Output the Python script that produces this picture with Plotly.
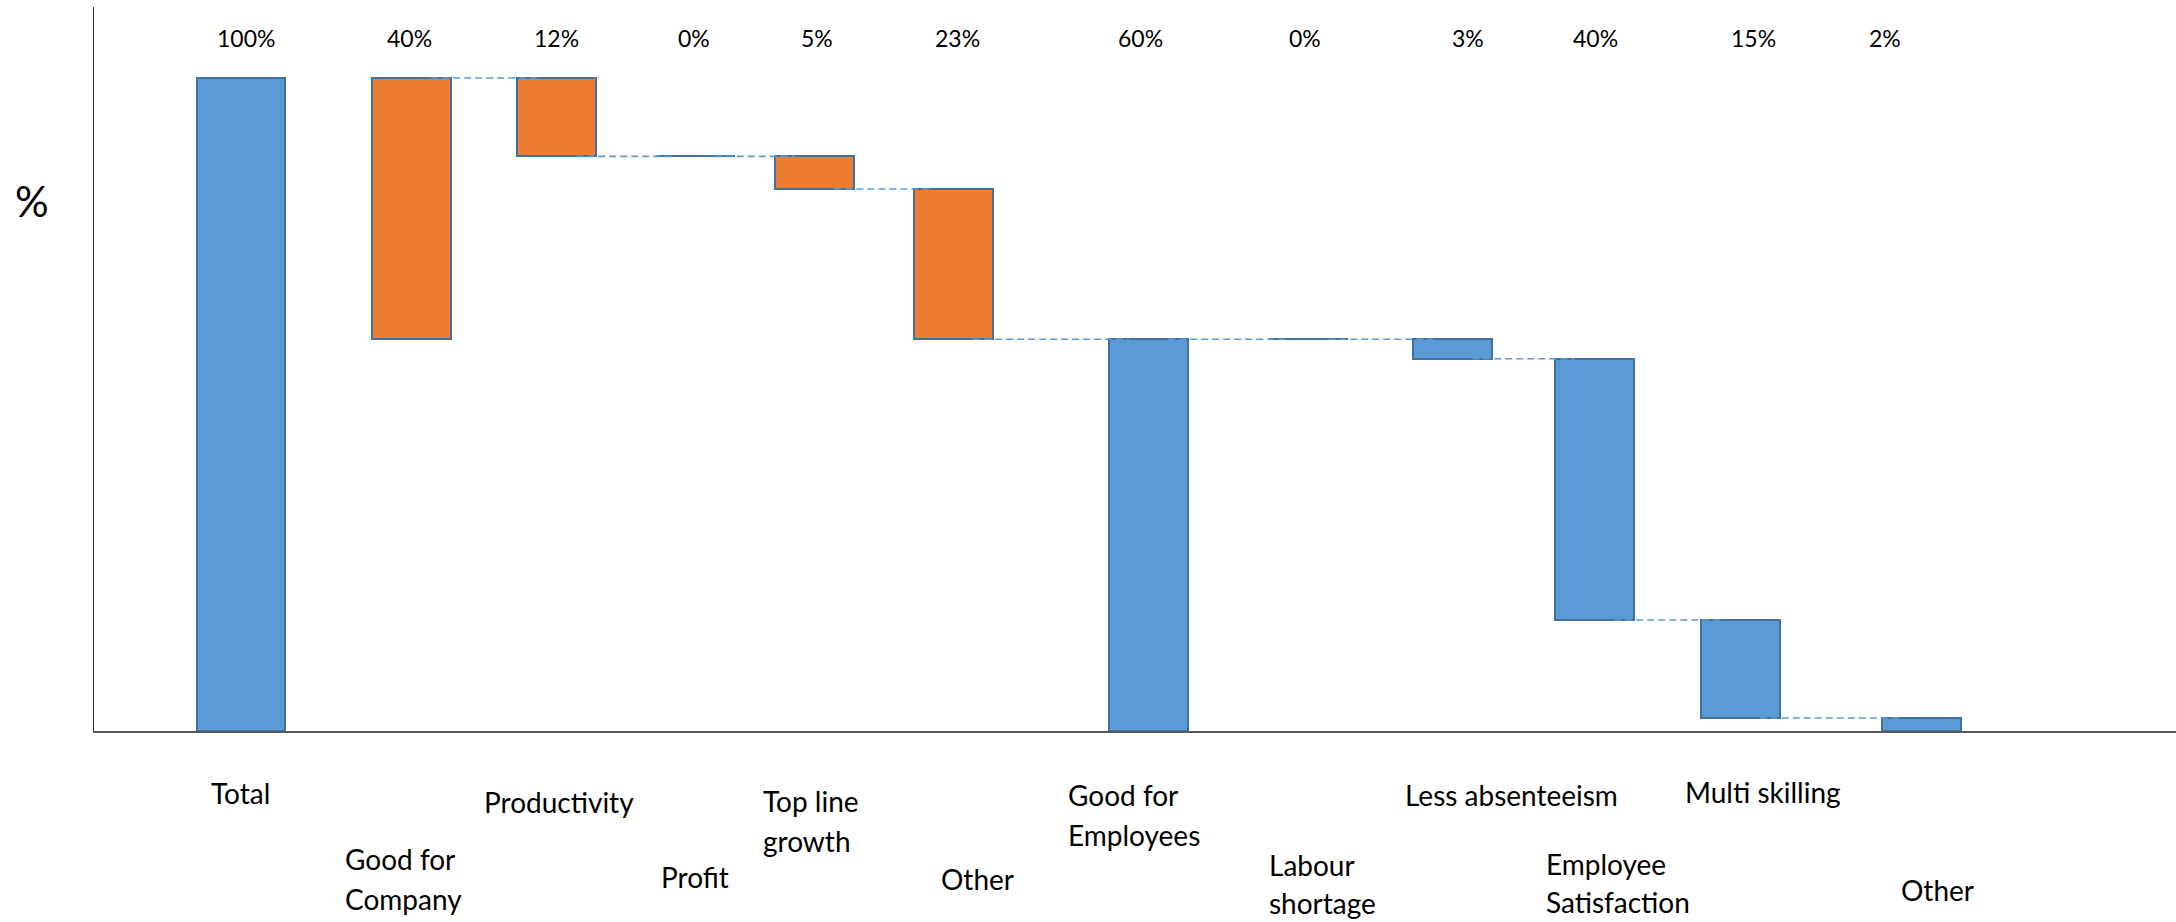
import plotly.graph_objects as go

# ---- data -------------------------------------------------------------
categories = [
    "Total", "Good for<br>Company", "Productivity", "Profit", "Top line<br>growth", "Other",
    "Good for<br>Employees", "Labour<br>shortage", "Less absenteeism", "Employee<br>Satisfaction",
    "Multi skilling", "Other",
]
values = [100, 40, 12, 0, 5, 23, 60, 0, 3, 40, 15, 2]
# how each bar is stacked: total from zero, split = share hanging from the running level,
# step = cascades down from the running level, remainder = rests on zero
kinds = ["total", "split", "step", "step", "step", "step",
         "remainder", "step", "step", "step", "step", "step"]
groups = ["total", "company", "company", "company", "company", "company",
          "employees", "employees", "employees", "employees", "employees", "employees"]

# ---- layout of the slots (x in slot units) ----------------------------
bar_pos = [1.47, 3.175, 4.625, 6.01, 7.206, 8.594, 10.544, 12.145, 13.585, 15.005, 16.46, 18.27]
bar_width = [0.88] + [0.79] * 11
pct_label_pos = [1.52, 3.155, 4.62, 6.0, 7.234, 8.636, 10.468, 12.105, 13.74, 15.01, 16.595, 17.91]
# category label: left edge (slot units), centre of first text line (px below the axis)
cat_label_left = [1.15, 2.49, 3.88, 5.65, 6.67, 8.45, 9.72, 11.73, 13.09, 14.50, 15.89, 18.05]
cat_label_drop = [62, 128, 71, 146, 70, 148, 64, 134, 64, 133, 61, 159]
line_gap = [0, 40, 0, 0, 40, 0, 40, 38, 0, 38, 0, 0]

# ---- styles -----------------------------------------------------------
BLUE = "#5B9BD5"
ORANGE = "#ED7D31"
EDGE = "#41719C"
FONT = "Lato, 'Open Sans', sans-serif"
group_colors = {"total": BLUE, "company": ORANGE, "employees": BLUE}

# ---- stack the bars ---------------------------------------------------
bases, tops = [], []
level = 0
for v, k in zip(values, kinds):
    if k in ("total", "remainder"):
        base, top = 0, v
        level = v
    elif k == "split":
        top = level
        base = top - v
    else:  # step
        top = level
        base = level - v
        level = base
    bases.append(base)
    tops.append(top)

fig = go.Figure()

fig.add_trace(go.Bar(
    x=bar_pos,
    y=values,
    base=bases,
    width=bar_width,
    marker=dict(color=[group_colors[g] for g in groups], line=dict(color=EDGE, width=2)),
    hoverinfo="skip",
))

# dashed connectors between consecutive bars, at the top of the following bar
for i in range(1, len(values) - 1):
    x0 = bar_pos[i] + bar_width[i] / 2 - 0.25 * bar_width[i]
    x1 = bar_pos[i + 1] - bar_width[i + 1] / 2 + 0.25 * bar_width[i + 1]
    lvl = tops[i + 1]
    fig.add_trace(go.Scatter(
        x=[x0, x1], y=[lvl, lvl], mode="lines",
        line=dict(color=BLUE, width=1.6, dash="7px,4px"),
        hoverinfo="skip",
    ))

annotations = []
# value labels along the top
for xp, v in zip(pct_label_pos, values):
    annotations.append(dict(
        x=xp, xref="x", y=0, yref="paper", yshift=693.5,
        text=f"{v}%", showarrow=False, xanchor="center", yanchor="middle",
        font=dict(family=FONT, size=23, color="#000000"),
    ))

# category labels under the axis, one annotation per text line
for name, xl, drop, gap in zip(categories, cat_label_left, cat_label_drop, line_gap):
    for j, line in enumerate(name.split("<br>")):
        annotations.append(dict(
            x=xl, xref="x", y=0, yref="paper", yshift=-(drop + j * gap),
            text=line, showarrow=False, xanchor="left", yanchor="middle",
            font=dict(family=FONT, size=28, color="#000000"),
        ))

# axis title
annotations.append(dict(
    x=0, xref="paper", xshift=-62, y=0, yref="paper", yshift=530,
    text="%", showarrow=False, xanchor="center", yanchor="middle",
    font=dict(family=FONT, size=42, color="#000000"),
))

fig.update_layout(
    width=2176, height=922,
    margin=dict(l=94, r=0, t=7, b=191),
    paper_bgcolor="white", plot_bgcolor="white",
    showlegend=False,
    bargap=0,
    annotations=annotations,
    xaxis=dict(range=[0, 20.82], showline=True, linecolor="#595959", linewidth=2,
               showgrid=False, zeroline=False, showticklabels=False, ticks=""),
    yaxis=dict(range=[0, 110.87], showline=True, linecolor="#333333", linewidth=1,
               showgrid=False, zeroline=False, showticklabels=False, ticks=""),
)

fig.write_html("out.html")
